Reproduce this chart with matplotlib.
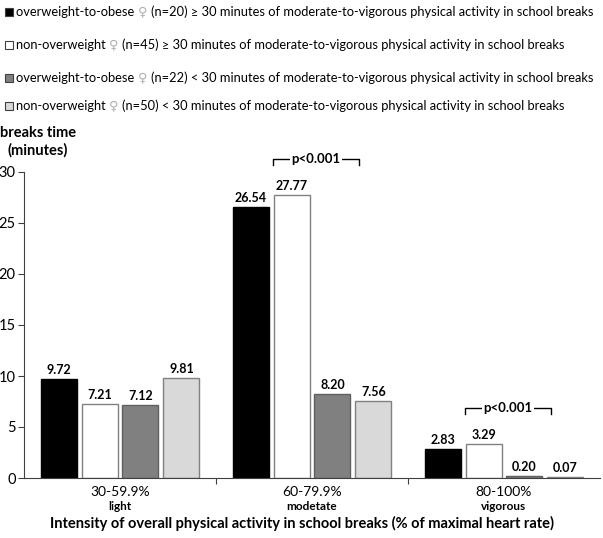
import matplotlib
matplotlib.use("Agg")
import matplotlib.pyplot as plt
from matplotlib.patches import Rectangle
import matplotlib.transforms as mtransforms
from matplotlib import font_manager
import numpy as np

plt.rcParams['font.family'] = ['Lato', 'DejaVu Sans']
names = sorted({f.name for f in font_manager.fontManager.ttflist})
narrow = 'Liberation Sans Narrow' if 'Liberation Sans Narrow' in names else 'Lato'

categories = ["30-59.9%", "60-79.9%", "80-100%"]
sublabels = ["light", "modetate", "vigorous"]
series_names = [
    ("overweight-to-obese", "(n=20) \u2265 30 minutes of moderate-to-vigorous physical activity in school breaks"),
    ("non-overweight", "(n=45) \u2265 30 minutes of moderate-to-vigorous physical activity in school breaks"),
    ("overweight-to-obese", "(n=22) < 30 minutes of moderate-to-vigorous physical activity in school breaks"),
    ("non-overweight", "(n=50) < 30 minutes of moderate-to-vigorous physical activity in school breaks"),
]
values = [
    [9.72, 26.54, 2.83],
    [7.21, 27.77, 3.29],
    [7.12, 8.20, 0.20],
    [9.81, 7.56, 0.07],
]
colors = ["#000000", "#ffffff", "#808080", "#d9d9d9"]
edges = ["#000000", "#808080", "#606060", "#808080"]
yticks = [0, 5, 10, 15, 20, 25, 30]

W, H = 603, 538
fig = plt.figure(figsize=(W/100, H/100), dpi=100)
ax = fig.add_axes([24/W, 1-478/H, 576/W, 306/H])

x = np.arange(len(categories))
bw = 0.1875
step = 0.2135
offsets = (np.arange(4) - 1.5) * step
for i in range(4):
    bars = ax.bar(x + offsets[i], values[i], width=bw, color=colors[i],
                  edgecolor=edges[i], linewidth=1.0)
    for b, v in zip(bars, values[i]):
        ax.text(b.get_x() + b.get_width()/2, v + 0.3, f"{v:.2f}",
                ha='center', va='bottom', fontsize=9, fontweight='bold')

ax.set_xlim(-0.5, 2.5)
ax.set_ylim(0, 30)
ax.set_yticks(yticks)
ax.tick_params(axis='y', direction='out', length=4, labelsize=10.5, pad=2, color='#404040')
ax.set_xticks([0.5, 1.5])
ax.set_xticklabels([])
ax.tick_params(axis='x', direction='out', length=4, color='#404040')
for s in ['top', 'right']:
    ax.spines[s].set_visible(False)
for s in ['left', 'bottom']:
    ax.spines[s].set_color('#404040')

trans = mtransforms.blended_transform_factory(ax.transData, fig.transFigure)
for i, (c, s) in enumerate(zip(categories, sublabels)):
    ax.text(i, 1-492/H, c, ha='center', va='center', fontsize=10, transform=trans)
    ax.text(i, 1-507/H, s, ha='center', va='center', fontsize=8.5, fontweight='bold', transform=trans)

fig.text(0.5, 1-523/H, "Intensity of overall physical activity in school breaks (% of maximal heart rate)",
         ha='center', va='center', fontsize=10.5, fontweight='bold')

fig.text(38/W, 1-133/H, "breaks time", ha='center', va='center', fontsize=10.5, fontweight='bold')
fig.text(38/W, 1-150/H, "(minutes)", ha='center', va='center', fontsize=10.5, fontweight='bold')

# p-value brackets
def bracket(ci, ytop, ydrop):
    x0, x1 = ci - 0.203, ci + 0.245
    xm = (x0 + x1) / 2
    ax.plot([x0, x0, x1, x1], [ydrop, ytop, ytop, ydrop], color='black', lw=1, clip_on=False)
    ax.text(xm, ytop, "p<0.001", ha='center', va='center', fontsize=9.5, fontweight='bold',
            bbox=dict(facecolor='white', edgecolor='none', pad=1.0))

bracket(1, 31.3, 30.7)
bracket(2, 6.86, 6.27)

# legend
rows_y = [12, 45, 78, 106]

def draw_row(i, fs):
    name, rest = series_names[i]
    yy = 1 - rows_y[i]/H
    t1 = fig.text(16/W, yy, name + " ", ha='left', va='center', fontsize=fs, family=[narrow, 'DejaVu Sans'])
    fig.canvas.draw()
    bb = t1.get_window_extent()
    t2 = fig.text(bb.x1/W, yy, "\u2640", ha='left', va='center', fontsize=fs, color='#b0b0b0',
                  family=['DejaVu Sans'])
    fig.canvas.draw()
    bb2 = t2.get_window_extent()
    t3 = fig.text(bb2.x1/W + 4/W, yy, rest, ha='left', va='center', fontsize=fs,
                  family=[narrow, 'DejaVu Sans'])
    fig.canvas.draw()
    return [t1, t2, t3], t3.get_window_extent().x1

fs = 9.5
arts, xend = draw_row(0, fs)
for a in arts:
    a.remove()
fs = fs * (598 - 16) / (xend - 16)

for i in range(4):
    yy = 1 - rows_y[i]/H
    fig.patches.append(Rectangle((5/W, yy - 4/H), 8/W, 8/H, transform=fig.transFigure,
                                 facecolor=colors[i], edgecolor='#404040', lw=0.8))
    draw_row(i, fs)

fig.savefig("out.png", dpi=100)
